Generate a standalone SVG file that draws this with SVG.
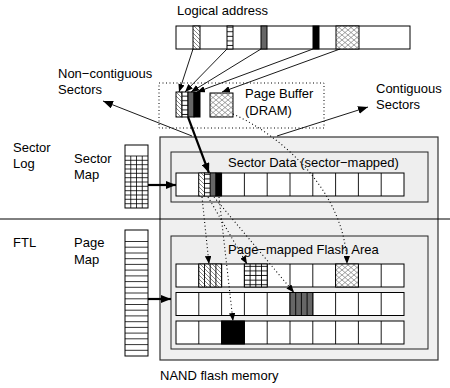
<svg xmlns="http://www.w3.org/2000/svg" width="450" height="388" viewBox="0 0 450 388">
<style>
text{font-family:"Liberation Sans",Arial,sans-serif;font-size:13px;fill:#000}
.cell{fill:#fff;stroke:#000;stroke-width:1}
.thin{fill:none;stroke:#000;stroke-width:0.9}
.thick{fill:none;stroke:#000;stroke-width:2.2}
.dot{fill:none;stroke:#000;stroke-width:1.1;stroke-dasharray:1 2.6}
.grid{fill:none;stroke:#000;stroke-width:0.8}
</style>
<defs>
<pattern id="hatch" patternUnits="userSpaceOnUse" width="4" height="4">
<rect width="4" height="4" fill="#fff"/>
<path d="M-1,-1 L5,5 M-1,3 L1,5 M3,-1 L5,1" stroke="#555" stroke-width="0.7"/>
</pattern>
<pattern id="stripes" patternUnits="userSpaceOnUse" width="6" height="4.6">
<rect width="6" height="4.6" fill="#fff"/>
<path d="M0,4.1 H6" stroke="#000" stroke-width="0.9"/>
</pattern>
<pattern id="cross" patternUnits="userSpaceOnUse" width="6" height="5">
<rect width="6" height="5" fill="#fff"/>
<path d="M0,0 L6,5 M6,0 L0,5" stroke="#777" stroke-width="0.7"/>
</pattern>
<marker id="ah" viewBox="0 0 10 8" refX="10" refY="4" markerWidth="8" markerHeight="6.4" markerUnits="userSpaceOnUse" orient="auto">
<path d="M0,0 L10,4 L0,8 z" fill="#000"/>
</marker>
<marker id="ahb" viewBox="0 0 10 8" refX="10" refY="4" markerWidth="10" markerHeight="8" markerUnits="userSpaceOnUse" orient="auto">
<path d="M0,0 L10,4 L0,8 z" fill="#000"/>
</marker>
</defs>

<!-- NAND flash memory outer box -->
<g id="nand">
<rect x="160" y="137" width="278" height="223" fill="#f0f0f0" stroke="#333" stroke-width="1.2"/>
<text x="160" y="380">NAND flash memory</text>
</g>

<!-- separator -->
<line x1="0" y1="219" x2="450" y2="219" stroke="#000" stroke-width="1"/>

<!-- Logical address -->
<g id="logical">
<text x="177" y="15">Logical address</text>
<rect x="176" y="26" width="234" height="23" class="cell"/>
<rect x="193" y="26" width="7" height="23" fill="url(#hatch)" stroke="#000"/>
<rect x="227" y="26" width="6" height="23" fill="url(#stripes)" stroke="#000"/>
<rect x="261" y="26" width="6" height="23" fill="#666" stroke="#000"/>
<rect x="313" y="26" width="6" height="23" fill="#000" stroke="#000"/>
<rect x="336" y="26" width="23" height="23" fill="url(#cross)" stroke="#000"/>
</g>

<!-- Page buffer -->
<g id="buffer">
<rect x="159" y="83" width="165" height="45" fill="none" stroke="#000" stroke-width="1" stroke-dasharray="1 2.5"/>
<rect x="176" y="92" width="6" height="25" fill="url(#hatch)" stroke="#000"/>
<rect x="182" y="92" width="6" height="25" fill="url(#stripes)" stroke="#000"/>
<rect x="188" y="92" width="6" height="25" fill="#666" stroke="#000"/>
<rect x="194" y="92" width="6" height="25" fill="#000" stroke="#000"/>
<rect x="210" y="93" width="23" height="24" fill="url(#cross)" stroke="#000"/>
<text x="245" y="98">Page Buffer</text>
<text x="245" y="115">(DRAM)</text>
</g>

<g id="labels">
<text x="58" y="78">Non−contiguous</text>
<text x="58" y="94">Sectors</text>
<text x="376" y="93">Contiguous</text>
<text x="376" y="109">Sectors</text>
<text x="13" y="152">Sector</text>
<text x="13" y="168">Log</text>
<text x="13" y="247">FTL</text>
</g>

<!-- Sector map -->
<g id="sectormap">
<text x="74" y="163">Sector</text>
<text x="74" y="179">Map</text>
<rect x="125" y="145" width="23" height="63" class="cell"/>
<path class="grid" d="M125,156H148 M125,160.3H148 M125,164.7H148 M125,169H148 M125,173.3H148 M125,177.7H148 M125,182H148 M125,186.3H148 M125,190.7H148 M125,195H148 M125,199.3H148 M125,203.7H148 M130.75,156V208 M136.5,156V208 M142.25,156V208"/>
</g>

<!-- Page map -->
<g id="pagemap">
<text x="74" y="247">Page</text>
<text x="74" y="264">Map</text>
<rect x="125" y="230" width="23" height="126" class="cell"/>
<path class="grid" d="M125,241.5H148 M125,247.2H148 M125,253H148 M125,258.7H148 M125,264.4H148 M125,270.1H148 M125,275.9H148 M125,281.6H148 M125,287.3H148 M125,293H148 M125,298.8H148 M125,304.5H148 M125,310.2H148 M125,315.9H148 M125,321.7H148 M125,327.4H148 M125,333.1H148 M125,338.8H148 M125,344.6H148 M125,350.3H148"/>
</g>

<!-- Sector data area -->
<g id="sectordata">
<rect x="171" y="152" width="257" height="50" fill="#eee" stroke="#222" stroke-width="1"/>
<text x="228" y="167">Sector Data (sector−mapped)</text>
<rect x="176" y="173" width="228" height="23" class="cell"/>
<path class="thin" d="M198.8,173V196 M221.6,173V196 M244.4,173V196 M267.2,173V196 M290,173V196 M312.8,173V196 M335.6,173V196 M358.4,173V196 M381.2,173V196"/>
<rect x="198.8" y="173" width="5.7" height="23" fill="url(#hatch)" stroke="#000" stroke-width="0.8"/>
<rect x="204.5" y="173" width="5.7" height="23" fill="url(#stripes)" stroke="#000" stroke-width="0.8"/>
<rect x="210.2" y="173" width="5.7" height="23" fill="#666" stroke="#000" stroke-width="0.8"/>
<rect x="215.9" y="173" width="5.7" height="23" fill="#000" stroke="#000" stroke-width="0.8"/>
</g>

<!-- Page-mapped flash area -->
<g id="pagearea">
<rect x="171" y="236" width="257" height="113" fill="#eee" stroke="#222" stroke-width="1"/>
<text x="228" y="254">Page−mapped Flash Area</text>
<rect x="176" y="264" width="228" height="23" class="cell"/>
<rect x="176" y="292.5" width="228" height="23" class="cell"/>
<rect x="176" y="321" width="228" height="23" class="cell"/>
<path class="thin" d="M198.8,264V287 M221.6,264V287 M244.4,264V287 M267.2,264V287 M290,264V287 M312.8,264V287 M335.6,264V287 M358.4,264V287 M381.2,264V287 M198.8,292.5V315.5 M221.6,292.5V315.5 M244.4,292.5V315.5 M267.2,292.5V315.5 M290,292.5V315.5 M312.8,292.5V315.5 M335.6,292.5V315.5 M358.4,292.5V315.5 M381.2,292.5V315.5 M198.8,321V344 M221.6,321V344 M244.4,321V344 M267.2,321V344 M290,321V344 M312.8,321V344 M335.6,321V344 M358.4,321V344 M381.2,321V344"/>
<rect x="198.8" y="264" width="22.8" height="23" fill="url(#hatch)" stroke="#000"/>
<path class="thin" d="M204.5,264V287 M210.2,264V287 M215.9,264V287"/>
<rect x="244.4" y="264" width="22.8" height="23" fill="url(#stripes)" stroke="#000"/>
<path class="thin" d="M250.1,264V287 M255.8,264V287 M261.5,264V287"/>
<rect x="335.6" y="264" width="22.8" height="23" fill="url(#cross)" stroke="#000"/>
<rect x="290" y="292.5" width="22.8" height="23" fill="#666" stroke="#000"/>
<path class="thin" d="M295.7,292.5V315.5 M301.4,292.5V315.5 M307.1,292.5V315.5"/>
<rect x="221.6" y="321" width="22.8" height="23" fill="#000" stroke="#000"/>
</g>

<!-- Connectors -->
<g id="connectors">
<line x1="193" y1="49" x2="179" y2="92" class="thin" marker-end="url(#ah)"/>
<line x1="227" y1="49" x2="185" y2="92" class="thin" marker-end="url(#ah)"/>
<line x1="261" y1="49" x2="191" y2="92" class="thin" marker-end="url(#ah)"/>
<line x1="313" y1="49" x2="197" y2="92" class="thin" marker-end="url(#ah)"/>
<line x1="340" y1="49" x2="222" y2="92" class="thin" marker-end="url(#ah)"/>
<line x1="192" y1="136" x2="103" y2="101" class="thin" marker-end="url(#ahb)"/>
<line x1="277" y1="136" x2="368" y2="107" class="thin" marker-end="url(#ahb)"/>
<line x1="188" y1="117" x2="209" y2="173" class="thick" marker-end="url(#ahb)"/>
<line x1="148" y1="185" x2="176" y2="185" class="thick" marker-end="url(#ahb)"/>
<line x1="148" y1="299" x2="171" y2="299" class="thick" marker-end="url(#ahb)"/>
<path d="M233,114 C280,135 345,190 347,264" class="dot" marker-end="url(#ah)"/>
<line x1="202" y1="197" x2="209" y2="264" class="dot" marker-end="url(#ah)"/>
<line x1="208" y1="197" x2="247" y2="264" class="dot" marker-end="url(#ah)"/>
<line x1="214" y1="197" x2="294" y2="292.5" class="dot" marker-end="url(#ah)"/>
<line x1="219" y1="197" x2="233" y2="321" class="dot" marker-end="url(#ah)"/>
</g>
</svg>
